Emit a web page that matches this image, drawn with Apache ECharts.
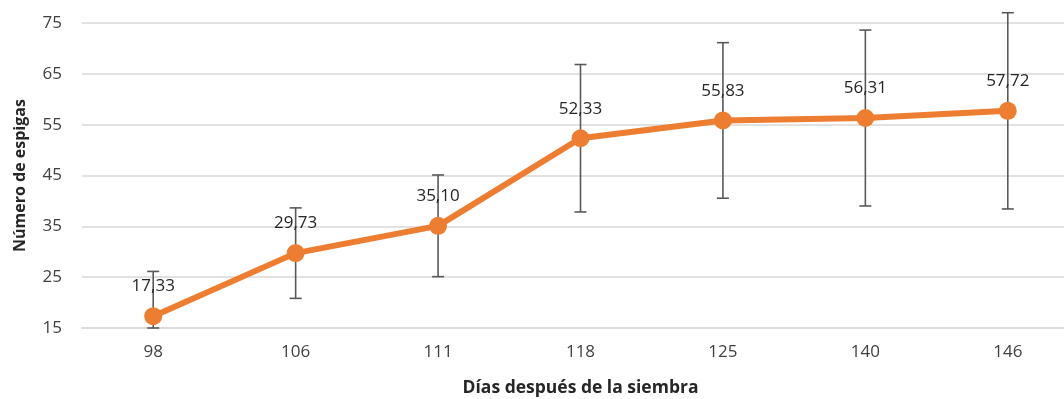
<!DOCTYPE html>
<html>
<head>
<meta charset="utf-8">
<script src="https://cdn.jsdelivr.net/npm/echarts@6/dist/echarts.min.js"></script>
<style>
  html, body { margin: 0; padding: 0; background: #fff; overflow: hidden; }
  #chart { width: 1064px; height: 399px; }
</style>
</head>
<body>
<div id="chart"></div>
<script>
// Días después de la siembra (categorías del eje X)
const days = ['98', '106', '111', '118', '125', '140', '146'];
// Número medio de espigas
const spikes = [17.33, 29.73, 35.10, 52.33, 55.83, 56.31, 57.72];
// Desviación (barras de error, +/-)
const spikeErr = [8.8, 8.9, 10.0, 14.5, 15.3, 17.3, 19.3];
// Escala del eje Y
const yMin = 15;
const yMax = 75;
const yStep = 10;

const FONT = '"Open Sans", "Liberation Sans", sans-serif';

const errorData = days.map((d, i) => [
  i,
  Math.max(spikes[i] - spikeErr[i], yMin),
  spikes[i] + spikeErr[i]
]);

const chart = echarts.init(document.getElementById('chart'), null, { renderer: 'canvas' });

chart.setOption({
  animation: false,
  backgroundColor: '#ffffff',
  // the plot area runs past the right edge of the canvas
  grid: {
    left: 82, width: 997, top: 23, height: 305,
    containLabel: false,
    outerBoundsMode: 'none'
  },
  xAxis: {
    type: 'category',
    data: days,
    boundaryGap: true,
    axisLine: { show: true, lineStyle: { color: '#d9d9d9', width: 1.5 } },
    axisTick: { show: false },
    axisLabel: { color: '#404040', fontSize: 17, fontFamily: FONT, margin: 16 },
    name: 'Días después de la siembra',
    nameLocation: 'middle',
    nameGap: 51,
    nameTextStyle: { color: '#262626', fontSize: 17.5, fontWeight: 'bold', fontFamily: FONT }
  },
  yAxis: {
    type: 'value',
    min: yMin,
    max: yMax,
    interval: yStep,
    axisLine: { show: false },
    axisTick: { show: false },
    splitLine: { show: true, lineStyle: { color: '#d9d9d9', width: 1.5 } },
    axisLabel: { color: '#404040', fontSize: 17, fontFamily: FONT, margin: 20 },
    name: 'Número de espigas',
    nameLocation: 'middle',
    nameGap: 54,
    nameTextStyle: { color: '#262626', fontSize: 16, fontWeight: 'bold', fontFamily: FONT }
  },
  series: [
    {
      type: 'custom',
      name: 'error',
      clip: false,
      z: 1,
      data: errorData,
      renderItem: function (params, api) {
        const x = api.value(0);
        const lo = api.coord([x, api.value(1)]);
        const hi = api.coord([x, api.value(2)]);
        const cap = 6;
        const style = { stroke: '#595959', lineWidth: 1.6, fill: null };
        return {
          type: 'group',
          children: [
            { type: 'line', shape: { x1: lo[0], y1: lo[1], x2: hi[0], y2: hi[1] }, style: style },
            { type: 'line', shape: { x1: hi[0] - cap, y1: hi[1], x2: hi[0] + cap, y2: hi[1] }, style: style },
            { type: 'line', shape: { x1: lo[0] - cap, y1: lo[1], x2: lo[0] + cap, y2: lo[1] }, style: style }
          ]
        };
      }
    },
    {
      type: 'line',
      name: 'espigas',
      data: spikes,
      z: 3,
      symbol: 'circle',
      symbolSize: 18,
      lineStyle: { color: '#ED7D31', width: 6 },
      itemStyle: { color: '#ED7D31' },
      label: {
        show: true,
        position: 'top',
        distance: 12,
        color: '#262626',
        fontSize: 17,
        fontFamily: FONT,
        formatter: p => p.value.toFixed(2).replace('.', ',')
      }
    }
  ]
});
</script>
</body>
</html>
